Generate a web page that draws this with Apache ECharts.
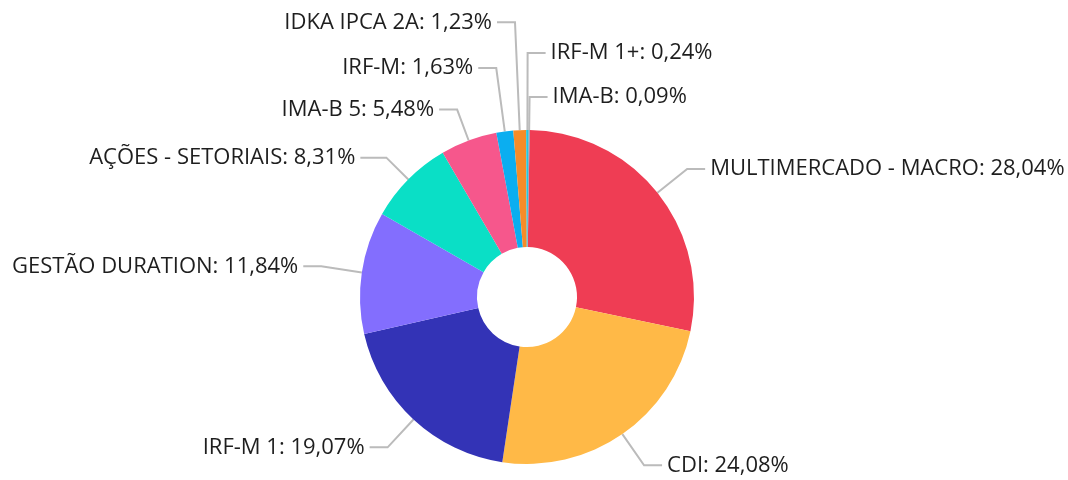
<!DOCTYPE html>
<html>
<head>
<meta charset="utf-8">
<script src="https://cdn.jsdelivr.net/npm/echarts@6/dist/echarts.min.js"></script>
<style>html,body{margin:0;padding:0;background:#fff}#c{width:1068px;height:480px}</style>
</head>
<body>
<div id="c"></div>
<script>
const categories = ["MULTIMERCADO - MACRO","CDI","IRF-M 1","GESTÃO DURATION","AÇÕES - SETORIAIS","IMA-B 5","IRF-M","IDKA IPCA 2A","IRF-M 1+","IMA-B"];
const values = [28.04,24.08,19.07,11.84,8.31,5.48,1.63,1.23,0.24,0.09];
const colors = ["#EF3D54","#FFB947","#3333B6","#836EFE","#0ADFC6","#F6578C","#0BAEF0","#F68C28","#22C8E0","#8A8FA8"];

// label-line lengths used to spread the crowded top labels (style only)
const lineLen = {"IDKA IPCA 2A":108,"IRF-M":64,"IRF-M 1+":77,"IMA-B":33,"IMA-B 5":33,"AÇÕES - SETORIAIS":31,"GESTÃO DURATION":41};
const lineLen2 = {"AÇÕES - SETORIAIS":26};

const chart = echarts.init(document.getElementById('c'));
chart.setOption({
  animation:false,
  series:[{
    type:'pie',
    center:[527,297],
    radius:[50,167],
    startAngle:89.1,
    clockwise:true,
    avoidLabelOverlap:false,
    data: categories.map((n,i)=>({
      name:n,value:values[i],itemStyle:{color:colors[i]},
      labelLine:{
        length: lineLen[n] !== undefined ? lineLen[n] : 38,
        length2: lineLen2[n] !== undefined ? lineLen2[n] : 18
      }
    })),
    label:{
      show:true,
      fontFamily:'Open Sans',
      fontSize:22,
      overflow:'none',
      color:'#1e1e1e',
      formatter:(p)=>p.name+': '+p.value.toFixed(2).replace('.',',')+'%'
    },
    labelLine:{show:true,length:38,length2:18,lineStyle:{color:'#bbb',width:2}}
  }]
});
</script>
</body>
</html>
